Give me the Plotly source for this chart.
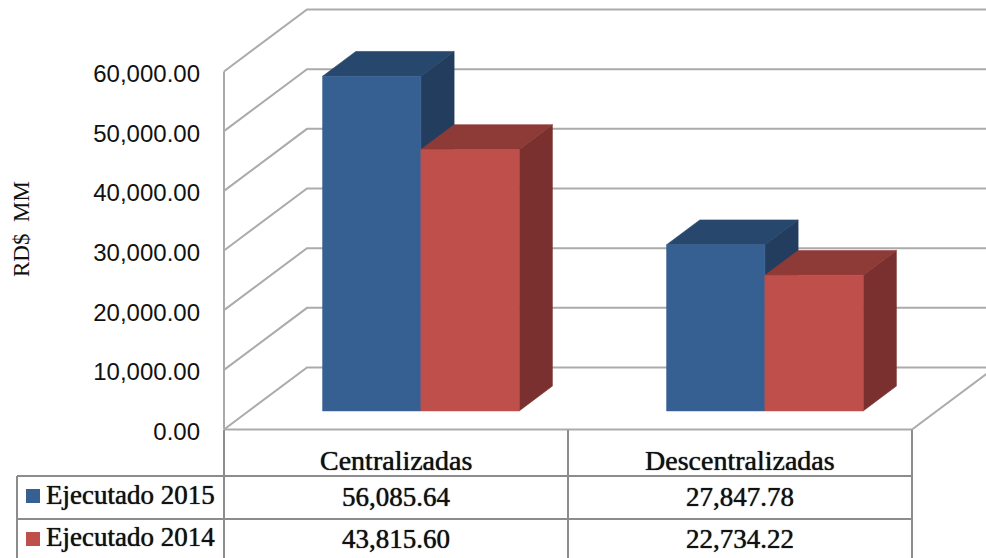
import plotly.graph_objects as go

categories = ["Centralizadas", "Descentralizadas"]
series_names = ["Ejecutado 2015", "Ejecutado 2014"]
ejecutado_2015 = [56085.64, 27847.78]
ejecutado_2014 = [43815.60, 22734.22]
tick_values = [0, 10000, 20000, 30000, 40000, 50000, 60000]

W, H = 986, 558
X0, CAT = 224, 344          # pixel of the axis left edge, pixels per category
Y0, PXV = 429.5, 358 / 60000  # pixel of value 0, pixels per unit
DX, DY = 83 / CAT, 62 / PXV  # depth of the chart box
BAR_W = 1 / 3.5
BAR_START, BAR_DEPTH = 0.30, 0.40  # fractions of box depth

x_range = [-0.5 - X0 / CAT, -0.5 + (W - X0) / CAT]
y_range = [(Y0 - H) / PXV, Y0 / PXV]
GRID = "#ABABAB"
EDGE = "#8C8C8C"
SERIF = "Liberation Serif"
TXT = "#111111"

fig = go.Figure()

def poly(xs, ys, color):
    fig.add_trace(go.Scatter(
        x=xs + xs[:1], y=ys + ys[:1], mode="lines", fill="toself",
        fillcolor=color, line=dict(color=color, width=0.6),
        hoverinfo="skip", showlegend=False))

def line(xs, ys, color=GRID, width=2):
    fig.add_trace(go.Scatter(
        x=xs, y=ys, mode="lines", line=dict(color=color, width=width),
        hoverinfo="skip", showlegend=False, cliponaxis=True))

# walls and floor
for v in tick_values:
    line([x_range[0] + X0 / CAT, -0.5 + DX, x_range[1]], [v, v + DY, v + DY])
line([-0.5, -0.5], [0, 60000])
line([-0.5, 1.5], [0, 0])
line([1.5, 1.5 + DX], [0, DY])

colors = [
    dict(front="#376092", top="#27476D", side="#233D5E"),
    dict(front="#BE4F4B", top="#8E3A37", side="#7A302E"),
]
dx0, dy0 = BAR_START * DX, BAR_START * DY
ddx, ddy = BAR_DEPTH * DX, BAR_DEPTH * DY

for c in range(len(categories)):
    for s, vals in enumerate([ejecutado_2015, ejecutado_2014]):
        left = c - BAR_W + s * BAR_W + dx0
        right = left + BAR_W
        base = dy0
        top = vals[c] + dy0
        col = colors[s]
        poly([right, right + ddx, right + ddx, right],
             [base, base + ddy, top + ddy, top], col["side"])
        poly([left, left + ddx, right + ddx, right],
             [top, top + ddy, top + ddy, top], col["top"])
        poly([left, right, right, left], [base, base, top, top], col["front"])

def py(p):
    return 1 - p / H

def px(p):
    return p / W

shapes = []
def seg(x0, y0, x1, y1):
    shapes.append(dict(type="line", xref="paper", yref="paper",
                       x0=px(x0), x1=px(x1), y0=py(y0), y1=py(y1),
                       line=dict(color=EDGE, width=2)))

for xp in (224, 568, 912):
    seg(xp, 430, xp, 558)
seg(17, 476, 912, 476)
seg(17, 519, 912, 519)
seg(17, 476, 17, 558)

for yc, col in ((496, colors[0]["front"]), (539, colors[1]["front"])):
    shapes.append(dict(type="rect", xref="paper", yref="paper",
                       x0=px(26), x1=px(40), y0=py(yc - 7), y1=py(yc + 7),
                       fillcolor=col, line=dict(width=0)))

ann = []
def text(x, y, s, size=27, anchor="center", angle=0, shadow="0 0 1px #111111"):
    ann.append(dict(x=px(x), y=py(y), xref="paper", yref="paper", text=s,
                    showarrow=False, xanchor=anchor, yanchor="middle",
                    textangle=angle,
                    font=dict(family=SERIF, size=size, color=TXT, shadow=shadow)))

centers = [396, 740]
for i, cat in enumerate(categories):
    text(centers[i], 460, cat, size=28)
    text(centers[i], 497, f"{ejecutado_2015[i]:,.2f}")
    text(centers[i], 539, f"{ejecutado_2014[i]:,.2f}")
text(44, 495, series_names[0], anchor="left")
text(44, 537, series_names[1], anchor="left")
text(22, 229, "RD$&nbsp;&nbsp;MM", size=23, angle=-90, shadow="none")

fig.update_layout(
    width=W, height=H, margin=dict(l=0, r=0, t=0, b=0),
    paper_bgcolor="white", plot_bgcolor="white", showlegend=False,
    shapes=shapes, annotations=ann,
    xaxis=dict(range=x_range, visible=False, fixedrange=True),
    yaxis=dict(range=y_range, anchor="free", position=px(X0), showgrid=False,
               zeroline=False, showline=False, ticks="", tickvals=tick_values,
               ticktext=[f"{v:,.2f}" for v in tick_values],
               ticklabelstandoff=24, ticklabelshift=2,
               tickfont=dict(family="Liberation Sans", size=24, color="#111111")),
)
fig.write_html("out.html", config=dict(displayModeBar=False),
               post_script="document.body.style.margin='0';document.documentElement.style.overflow='hidden';")
